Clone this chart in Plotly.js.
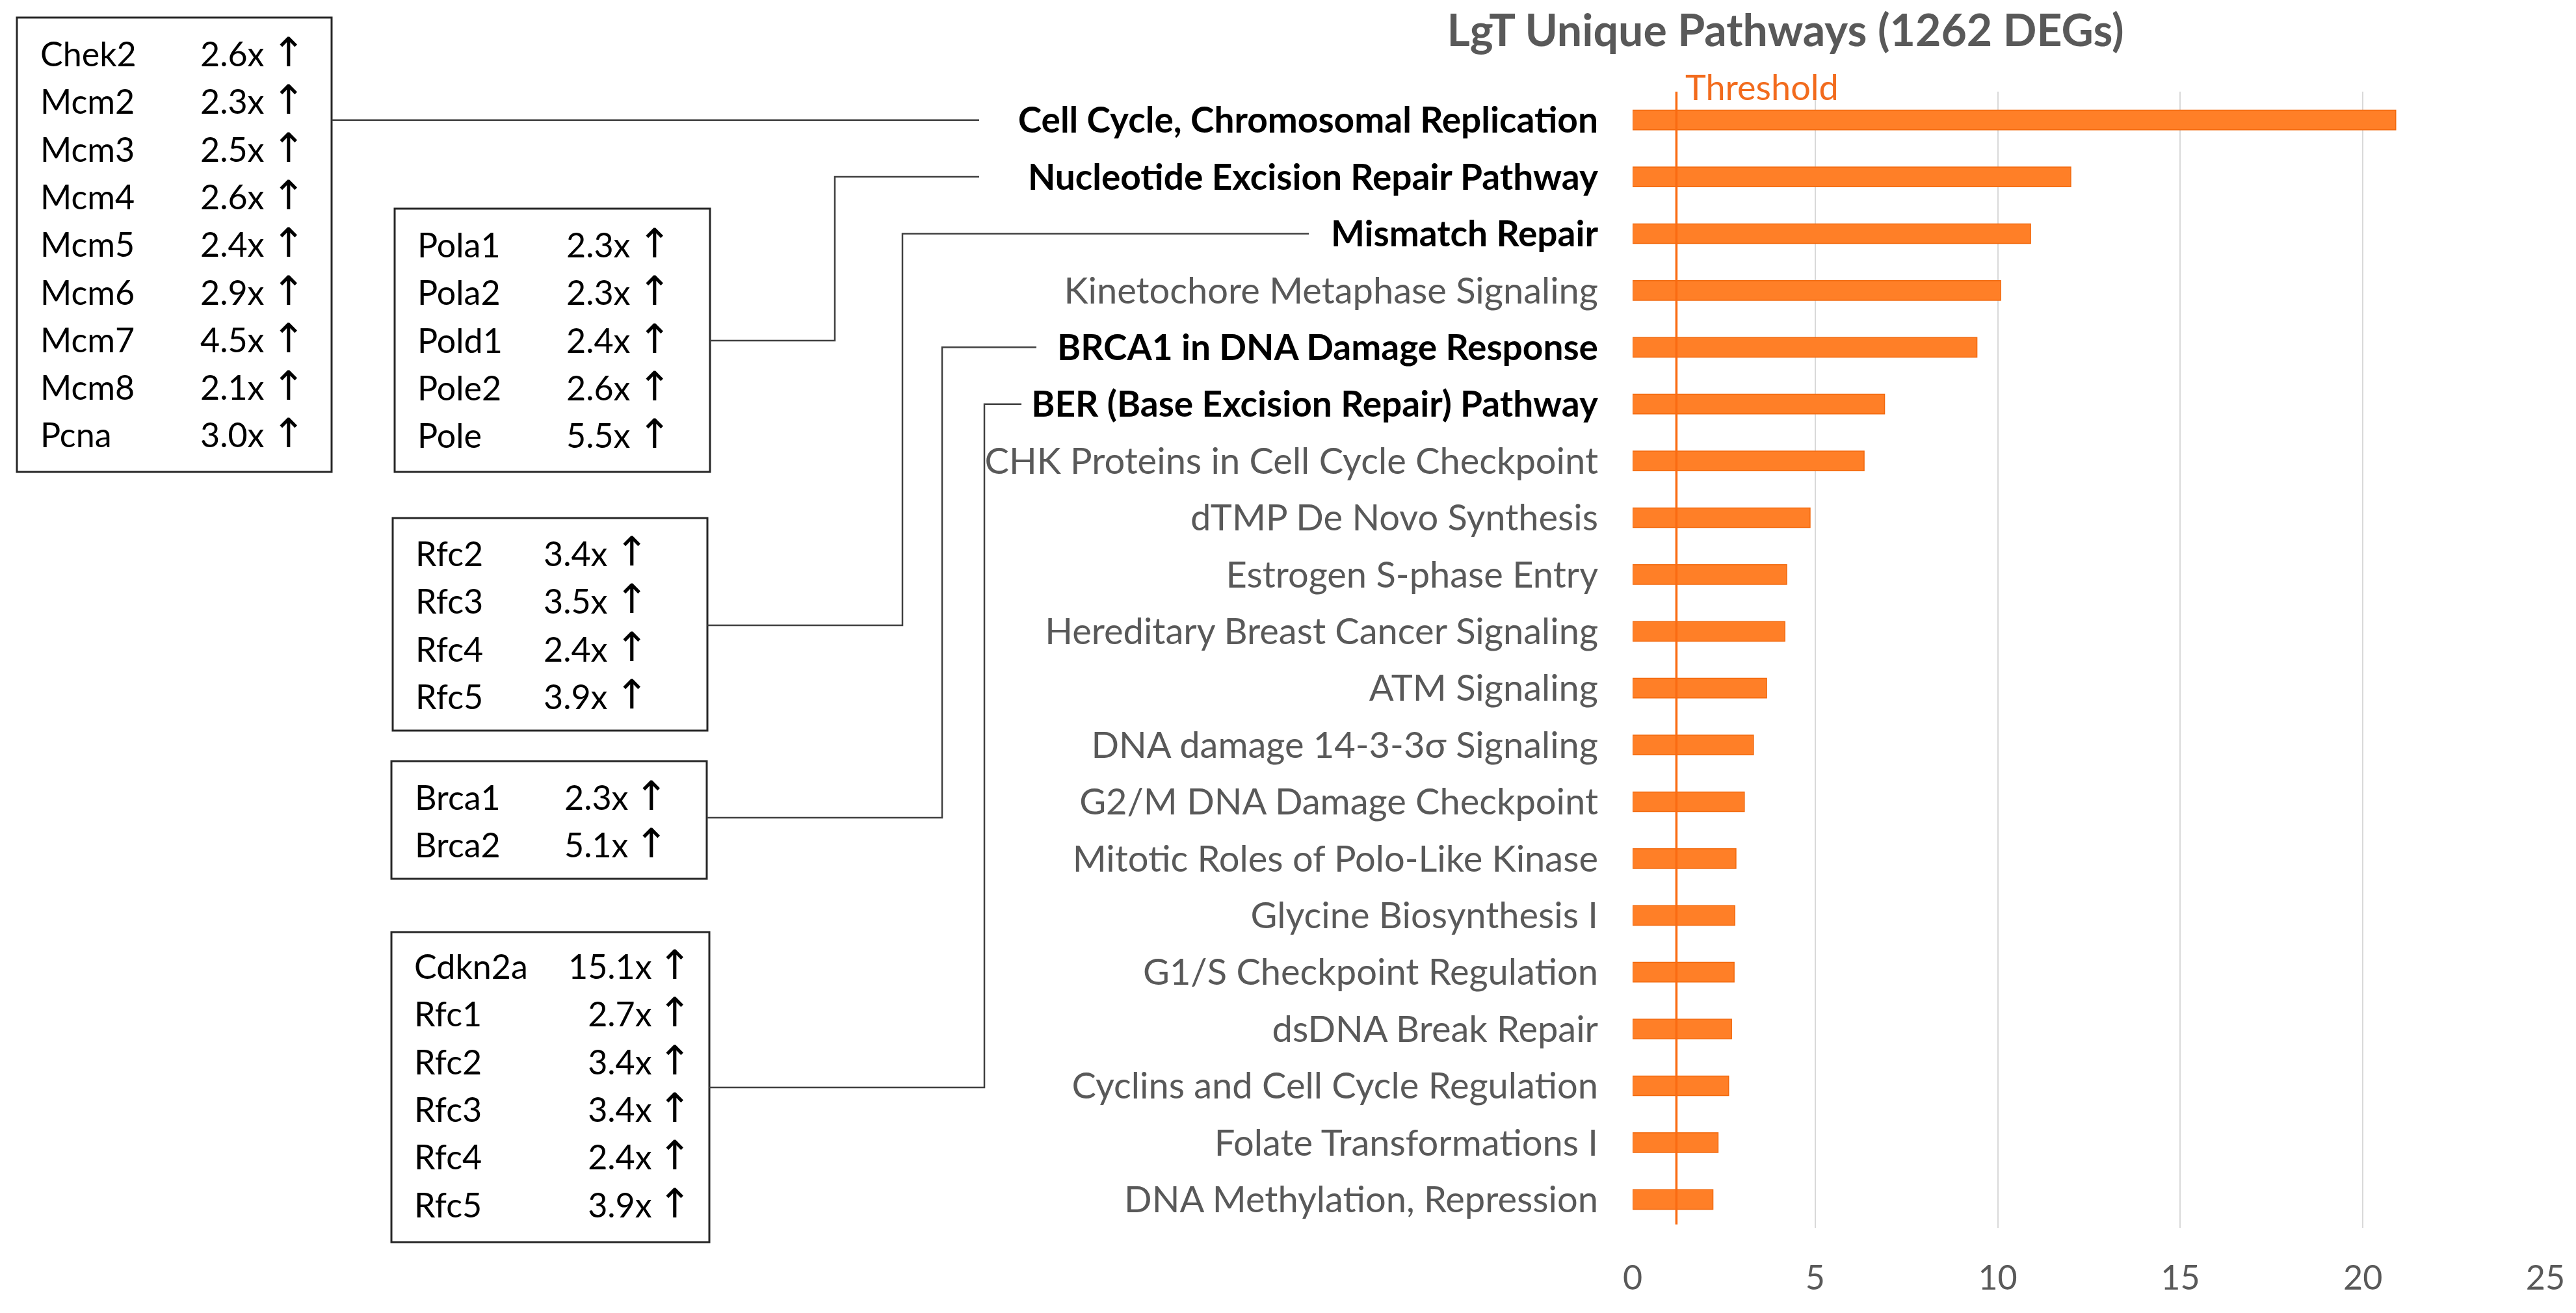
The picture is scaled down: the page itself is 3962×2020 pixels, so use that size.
<!DOCTYPE html>
<html>
<head>
<meta charset="utf-8">
<script src="https://cdn.plot.ly/plotly-3.0.1.min.js"></script>
<style>html,body{margin:0;padding:0;background:#fff;}#chart{width:3962px;height:2020px;}</style>
</head>
<body>
<div id="chart"></div>
<script>
// ---------------- DATA ----------------
const pathways = [
  "Cell Cycle, Chromosomal Replication",
  "Nucleotide Excision Repair Pathway",
  "Mismatch Repair",
  "Kinetochore Metaphase Signaling",
  "BRCA1 in DNA Damage Response",
  "BER (Base Excision Repair) Pathway",
  "CHK Proteins in Cell Cycle Checkpoint",
  "dTMP De Novo Synthesis",
  "Estrogen S-phase Entry",
  "Hereditary Breast Cancer Signaling",
  "ATM Signaling",
  "DNA damage 14-3-3σ Signaling",
  "G2/M DNA Damage Checkpoint",
  "Mitotic Roles of Polo-Like Kinase",
  "Glycine Biosynthesis I",
  "G1/S Checkpoint Regulation",
  "dsDNA Break Repair",
  "Cyclins and Cell Cycle Regulation",
  "Folate Transformations I",
  "DNA Methylation, Repression"
];
const scores = [20.9, 12.0, 10.9, 10.08, 9.43, 6.9, 6.34, 4.86, 4.22, 4.17, 3.67, 3.31, 3.06, 2.83, 2.80, 2.78, 2.71, 2.63, 2.34, 2.2];
const highlighted = [
  "Cell Cycle, Chromosomal Replication",
  "Nucleotide Excision Repair Pathway",
  "Mismatch Repair",
  "BRCA1 in DNA Damage Response",
  "BER (Base Excision Repair) Pathway"
];
const threshold = 1.2;
const xTicks = [0, 5, 10, 15, 20, 25];
const chartTitle = "LgT Unique Pathways (1262 DEGs)";

const genesCellCycle = ["Chek2", "Mcm2", "Mcm3", "Mcm4", "Mcm5", "Mcm6", "Mcm7", "Mcm8", "Pcna"];
const foldCellCycle  = [2.6, 2.3, 2.5, 2.6, 2.4, 2.9, 4.5, 2.1, 3.0];
const genesNER = ["Pola1", "Pola2", "Pold1", "Pole2", "Pole"];
const foldNER  = [2.3, 2.3, 2.4, 2.6, 5.5];
const genesMMR = ["Rfc2", "Rfc3", "Rfc4", "Rfc5"];
const foldMMR  = [3.4, 3.5, 2.4, 3.9];
const genesBRCA = ["Brca1", "Brca2"];
const foldBRCA  = [2.3, 5.1];
const genesBER = ["Cdkn2a", "Rfc1", "Rfc2", "Rfc3", "Rfc4", "Rfc5"];
const foldBER  = [15.1, 2.7, 3.4, 3.4, 2.4, 3.9];

// ---------------- LAYOUT GEOMETRY (pixels) ----------------
const W = 3962, H = 2020;
const M = {l: 2511, r: 47, t: 141, b: 131};
const PW = W - M.l - M.r, PH = H - M.t - M.b;
const px2x = p => (p - M.l) / PW;
const px2y = p => (H - M.b - p) / PH;
const catY = i => M.t + (i + 0.5) * PH / pathways.length;

const FONT = "Lato, 'Open Sans', sans-serif";
const ARROW_FONT = "'DejaVu Sans', sans-serif";
const GRAY = "#595959";

const rowStep = 73.3;              // pixel distance between gene rows
const LINE_FS = rowStep / 1.3;     // annotation font size that gives this line spacing
const GENE_FS = 52;                // visible gene text size
const ARROW_FS = 62;               // visible arrow size

const boxes = [
  {genes: genesCellCycle, fold: foldCellCycle, path: 0, x0: 26, x1: 510, y0: 27, y1: 726, row0: 83, nameX: 60, valX: 409, arrX: 444,
   link: {boxY: null, vx: null, endX: 1506}},
  {genes: genesNER, fold: foldNER, path: 1, x0: 607, x1: 1092, y0: 321, y1: 726, row0: 377, nameX: 640, valX: 972, arrX: 1007,
   link: {boxY: 524, vx: 1284, endX: 1506}},
  {genes: genesMMR, fold: foldMMR, path: 2, x0: 604, x1: 1088, y0: 797, y1: 1124, row0: 852, nameX: 637, valX: 937, arrX: 972,
   link: {boxY: 962, vx: 1388, endX: 2013}},
  {genes: genesBRCA, fold: foldBRCA, path: 4, x0: 602, x1: 1087, y0: 1171, y1: 1352, row0: 1227, nameX: 636, valX: 969, arrX: 1002,
   link: {boxY: 1258, vx: 1449, endX: 1594}},
  {genes: genesBER, fold: foldBER, path: 5, x0: 602, x1: 1091, y0: 1434, y1: 1911, row0: 1488, nameX: 635, valX: 1005, arrX: 1038,
   link: {boxY: 1673, vx: 1514, endX: 1571}}
];

const shapes = [];
const annotations = [];
const span = (t, fs, fam) => `<span style="font-size:${fs}px${fam ? ';font-family:' + fam : ''}">${t}</span>`;

boxes.forEach(b => {
  shapes.push({type: "rect", xref: "paper", yref: "paper",
    x0: px2x(b.x0), x1: px2x(b.x1), y0: px2y(b.y1), y1: px2y(b.y0),
    line: {color: "#262626", width: 3}, fillcolor: "rgba(0,0,0,0)"});
  const n = b.genes.length;
  const mid = b.row0 + (n - 1) / 2 * rowStep;
  const nameText = b.genes.map(g => span(g, GENE_FS)).join("<br>");
  const valText = b.fold.map(v => span(v.toFixed(1) + "x", GENE_FS)).join("<br>");
  const arrText = b.fold.map(() => span("\u2191", ARROW_FS)).join("<br>");
  annotations.push({xref: "paper", yref: "paper", x: px2x(b.nameX), y: px2y(mid - 1.4), text: nameText, showarrow: false,
    xanchor: "left", yanchor: "middle", align: "left", font: {family: FONT, size: LINE_FS, color: "#000"}});
  annotations.push({xref: "paper", yref: "paper", x: px2x(b.valX), y: px2y(mid - 1.4), text: valText, showarrow: false,
    xanchor: "right", yanchor: "middle", align: "right", font: {family: FONT, size: LINE_FS, color: "#000"}});
  annotations.push({xref: "paper", yref: "paper", x: px2x(b.arrX), y: px2y(mid - 3), text: arrText, showarrow: false,
    xanchor: "center", yanchor: "middle", align: "center", font: {family: ARROW_FONT, size: LINE_FS, color: "#000"}});
  const cy = catY(b.path);
  let d;
  if (b.link.vx === null) {
    d = `M ${px2x(b.x1)},${px2y(cy)} L ${px2x(b.link.endX)},${px2y(cy)}`;
  } else {
    d = `M ${px2x(b.x1)},${px2y(b.link.boxY)} L ${px2x(b.link.vx)},${px2y(b.link.boxY)} L ${px2x(b.link.vx)},${px2y(cy)} L ${px2x(b.link.endX)},${px2y(cy)}`;
  }
  shapes.push({type: "path", xref: "paper", yref: "paper", path: d, line: {color: "#404040", width: 2.5}});
});

// threshold line
shapes.push({type: "line", xref: "x", yref: "paper", x0: threshold, x1: threshold, y0: 0.003, y1: 1,
  line: {color: "#FA6B12", width: 3.5}, layer: "above"});
annotations.push({xref: "x", yref: "paper", x: threshold, y: px2y(133), xshift: 12, text: "Threshold", showarrow: false,
  xanchor: "left", yanchor: "middle", font: {family: FONT, size: 54, color: "#F26B1D"}});

const tickText = pathways.map(p => highlighted.includes(p)
  ? `<b><span style="color:#000000;font-size:55px">${p}</span></b>` : p);

const trace = {
  type: "bar", orientation: "h",
  x: scores, y: pathways,
  marker: {color: "#FF7F27", line: {color: "#F26A0F", width: 1.5}},
  hoverinfo: "x+y"
};

const layout = {
  width: W, height: H,
  margin: M,
  paper_bgcolor: "#fff", plot_bgcolor: "#fff",
  showlegend: false,
  bargap: 0.655,
  title: {text: `<b>${chartTitle}</b>`, xref: "paper", x: px2x(2746), xanchor: "center",
    yref: "container", y: 1 - 47 / H, yanchor: "middle",
    font: {family: FONT, size: 68, color: GRAY}},
  xaxis: {range: [0, 25], tickvals: xTicks, showgrid: true, gridcolor: "#D9D9D9", gridwidth: 2,
    zeroline: false, showline: false, ticks: "", ticklabelstandoff: 42,
    tickfont: {family: FONT, size: 52, color: GRAY}, fixedrange: true},
  yaxis: {type: "category", autorange: false, range: [pathways.length - 0.5, -0.5],
    tickvals: pathways, ticktext: tickText, showgrid: false, zeroline: false, showline: false,
    ticks: "", ticklabelstandoff: 52,
    tickfont: {family: FONT, size: 56, color: GRAY}, fixedrange: true},
  shapes: shapes,
  annotations: annotations
};

Plotly.newPlot("chart", [trace], layout, {displayModeBar: false, staticPlot: true});
</script>
</body>
</html>
